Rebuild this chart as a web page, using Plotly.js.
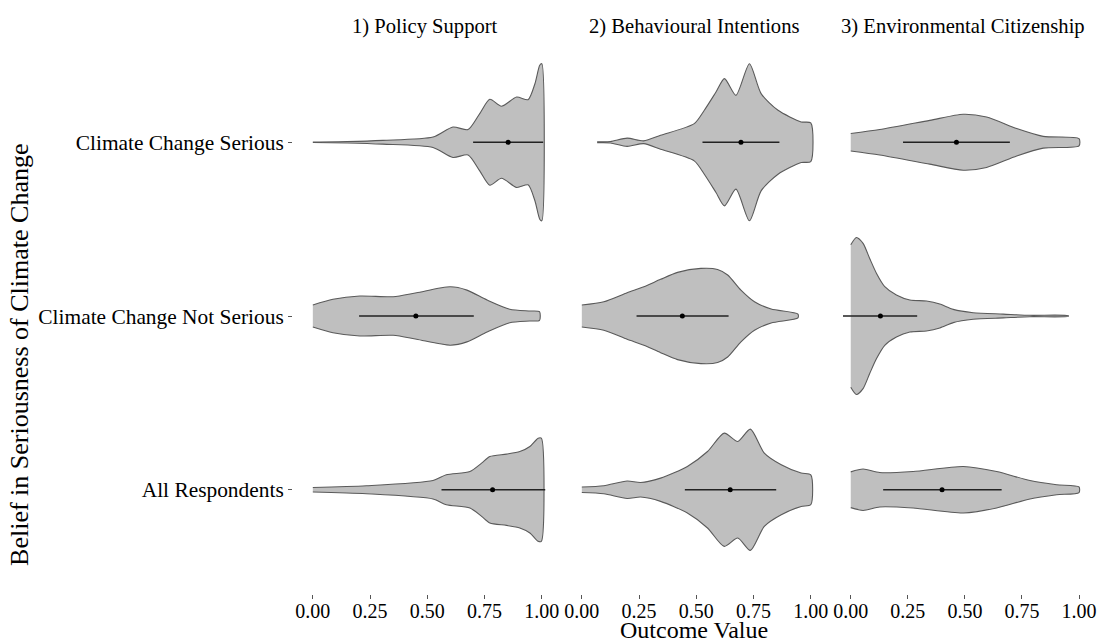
<!DOCTYPE html>
<html>
<head>
<meta charset="utf-8">
<script src="https://cdn.plot.ly/plotly-3.0.1.min.js"></script>
<style>html,body{margin:0;padding:0;background:#fff;}#chart{width:1102px;height:642px;}</style>
</head>
<body>
<div id="chart"></div>
<script>
// Categories (rows, top to bottom) and panels
const categories = ["Climate Change Serious", "Climate Change Not Serious", "All Respondents"];
const categoryPos = [2, 1, 0];
const panels = ["1) Policy Support", "2) Behavioural Intentions", "3) Environmental Citizenship"];
const xTickVals = [0, 0.25, 0.5, 0.75, 1];
const xTickText = ["0.00", "0.25", "0.50", "0.75", "1.00"];

// Violin outlines: outcome value grid and half-width (in category units)
// Panel 1: Policy Support
const policySeriousX = [0, 0.15, 0.306, 0.525, 0.612, 0.678, 0.729, 0.773, 0.824, 0.890, 0.940, 0.970, 0.991, 1.0];
const policySeriousW = [0.001, 0.004, 0.011, 0.030, 0.088, 0.073, 0.165, 0.247, 0.207, 0.260, 0.245, 0.337, 0.443, 0.452];
const policyNotX = [0, 0.088, 0.205, 0.351, 0.453, 0.600, 0.673, 0.761, 0.860, 0.948, 0.99];
const policyNotW = [0.063, 0.096, 0.115, 0.111, 0.134, 0.168, 0.149, 0.092, 0.039, 0.029, 0.025];
const policyAllX = [0, 0.234, 0.525, 0.583, 0.686, 0.737, 0.773, 0.846, 0.904, 0.948, 0.984, 0.998];
const policyAllW = [0.013, 0.023, 0.053, 0.086, 0.105, 0.153, 0.191, 0.205, 0.220, 0.249, 0.297, 0.297];
// Panel 2: Behavioural Intentions
const behavSeriousX = [0.067, 0.125, 0.198, 0.270, 0.344, 0.491, 0.535, 0.586, 0.623, 0.673, 0.732, 0.783, 0.857, 0.958, 1.0];
const behavSeriousW = [0.003, 0.004, 0.024, 0.008, 0.040, 0.107, 0.184, 0.289, 0.366, 0.270, 0.452, 0.280, 0.184, 0.117, 0.111];
const behavNotX = [0, 0.096, 0.198, 0.271, 0.344, 0.418, 0.520, 0.593, 0.637, 0.695, 0.754, 0.827, 0.944];
const behavNotW = [0.063, 0.082, 0.134, 0.168, 0.211, 0.251, 0.274, 0.268, 0.236, 0.149, 0.082, 0.040, 0.011];
const behavAllX = [0, 0.096, 0.198, 0.257, 0.344, 0.461, 0.549, 0.622, 0.681, 0.736, 0.797, 0.871, 0.958, 1.0];
const behavAllW = [0.016, 0.023, 0.050, 0.042, 0.067, 0.134, 0.220, 0.326, 0.278, 0.349, 0.211, 0.144, 0.096, 0.086];
// Panel 3: Environmental Citizenship
const envSeriousX = [0, 0.127, 0.346, 0.493, 0.595, 0.727, 0.843, 1.0];
const envSeriousW = [0.050, 0.073, 0.126, 0.161, 0.145, 0.079, 0.034, 0.021];
const envNotX = [0, 0.025, 0.054, 0.083, 0.113, 0.149, 0.200, 0.259, 0.332, 0.390, 0.449, 0.536, 0.668, 0.785, 0.953];
const envNotW = [0.41, 0.452, 0.418, 0.331, 0.245, 0.169, 0.121, 0.092, 0.086, 0.069, 0.038, 0.019, 0.011, 0.004, 0.002];
const envAllX = [0, 0.054, 0.127, 0.273, 0.493, 0.639, 0.785, 0.902, 1.0];
const envAllW = [0.103, 0.119, 0.099, 0.105, 0.134, 0.105, 0.053, 0.029, 0.016];

// Point estimates and intervals, order: Serious, Not Serious, All
const policyMid = [0.853, 0.450, 0.785];
const policyLo  = [0.700, 0.202, 0.562];
const policyHi  = [1.006, 0.703, 1.015];
const behavMid  = [0.695, 0.439, 0.648];
const behavLo   = [0.527, 0.239, 0.450];
const behavHi   = [0.863, 0.641, 0.849];
const envMid    = [0.463, 0.130, 0.400];
const envLo     = [0.229, -0.034, 0.142];
const envHi     = [0.697, 0.291, 0.661];

const violinSets = [
  [[policySeriousX, policySeriousW], [policyNotX, policyNotW], [policyAllX, policyAllW]],
  [[behavSeriousX, behavSeriousW], [behavNotX, behavNotW], [behavAllX, behavAllW]],
  [[envSeriousX, envSeriousW], [envNotX, envNotW], [envAllX, envAllW]]
];
const summarySets = [
  [policyMid, policyLo, policyHi],
  [behavMid, behavLo, behavHi],
  [envMid, envLo, envHi]
];
const axisIds = ["x", "x2", "x3"];

const traces = [];
violinSets.forEach((set, p) => {
  set.forEach(([xs, ws], r) => {
    const c = categoryPos[r];
    const px = [], py = [];
    for (let i = 0; i < xs.length; i++) { px.push(xs[i]); py.push(c + ws[i]); }
    for (let i = xs.length - 1; i >= 0; i--) { px.push(xs[i]); py.push(c - ws[i]); }
    traces.push({
      type: "scatter", mode: "lines", x: px, y: py, xaxis: axisIds[p], yaxis: "y",
      fill: "toself", fillcolor: "#bfbfbf",
      line: {color: "#5a5a5a", width: 1.1, shape: "spline", smoothing: 0.7},
      hoverinfo: "skip", showlegend: false
    });
  });
});
summarySets.forEach(([mid, lo, hi], p) => {
  traces.push({
    type: "scatter", mode: "markers", x: mid, y: categoryPos, xaxis: axisIds[p], yaxis: "y",
    marker: {color: "#000000", size: 5},
    error_x: {type: "data", symmetric: false,
      array: mid.map((m, i) => hi[i] - m), arrayminus: mid.map((m, i) => m - lo[i]),
      width: 0, thickness: 1.3, color: "#222222"},
    showlegend: false
  });
});

const font = "Liberation Serif, Times New Roman, serif";
const domains = [[0, 0.3302], [0.3354, 0.6656], [0.6708, 1]];
const layout = {
  width: 1102, height: 642,
  margin: {l: 293, r: 7, t: 38, b: 48},
  paper_bgcolor: "#ffffff", plot_bgcolor: "#ffffff",
  font: {family: font, color: "#000000"},
  showlegend: false,
  yaxis: {
    range: [-0.6, 2.6], tickvals: categoryPos, ticktext: categories,
    showgrid: false, zeroline: false, showline: false,
    ticks: "outside", ticklen: 4, tickcolor: "#555555", tickwidth: 1,
    tickfont: {family: font, size: 21.4, color: "#000000"}, anchor: "x"
  },
  annotations: [
    {text: "Belief in Seriousness of Climate Change", xref: "paper", yref: "paper",
     x: -0.3404, y: 0.43, textangle: -90, showarrow: false,
     xanchor: "center", yanchor: "middle", font: {family: font, size: 26, color: "#000000"}},
    {text: "Outcome Value", xref: "paper", yref: "paper", x: 0.5, y: -0.065,
     showarrow: false, xanchor: "center", yanchor: "middle",
     font: {family: font, size: 24, color: "#000000"}}
  ]
};
domains.forEach((d, p) => {
  const key = p === 0 ? "xaxis" : "xaxis" + (p + 1);
  layout[key] = {
    domain: d, range: [-0.0866, 1.07], anchor: "y",
    tickvals: xTickVals, ticktext: xTickText,
    showgrid: false, zeroline: false, showline: false,
    ticks: "outside", ticklen: 4, tickcolor: "#555555", tickwidth: 1,
    ticklabelstandoff: -5,
    tickfont: {family: font, size: 20, color: "#000000"}
  };
  layout.annotations.push({
    text: panels[p], xref: axisIds[p] + " domain", yref: "paper",
    x: 0.5, y: 1.0198, showarrow: false, xanchor: "center", yanchor: "middle",
    font: {family: font, size: 20.6, color: "#000000"}
  });
});

Plotly.newPlot("chart", traces, layout, {staticPlot: true, displayModeBar: false});
</script>
</body>
</html>
